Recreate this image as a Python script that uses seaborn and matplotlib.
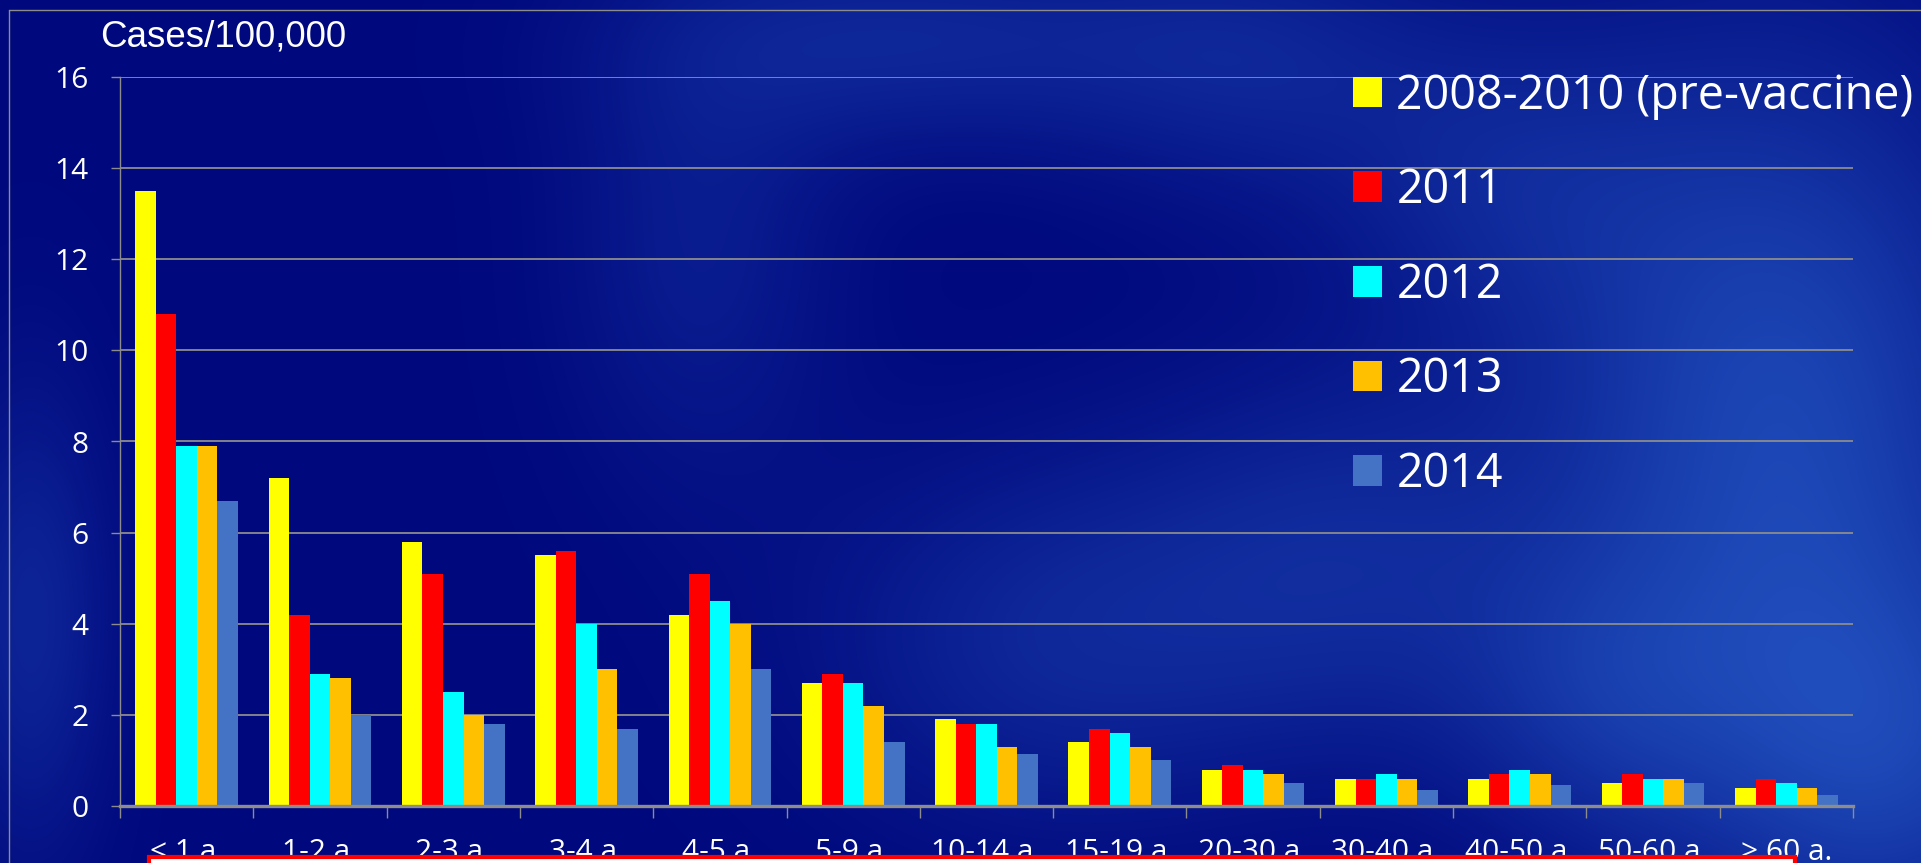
import numpy as np
import pandas as pd
import matplotlib
matplotlib.use("Agg")
import matplotlib.pyplot as plt
import seaborn as sns
from matplotlib.patches import Rectangle
from matplotlib.lines import Line2D

# ---- data: incidence per 100,000 by age group and period ----
age_groups = ["< 1 a.", "1-2 a.", "2-3 a.", "3-4 a.", "4-5 a.", "5-9 a.",
              "10-14 a.", "15-19 a.", "20-30 a.", "30-40 a.", "40-50 a.",
              "50-60 a.", "> 60 a."]
periods = ["2008-2010 (pre-vaccine)", "2011", "2012", "2013", "2014"]
rate_2008_2010 = [13.5, 7.2, 5.8, 5.5, 4.2, 2.7, 1.9, 1.4, 0.8, 0.6, 0.6, 0.5, 0.4]
rate_2011 = [10.8, 4.2, 5.1, 5.6, 5.1, 2.9, 1.8, 1.7, 0.9, 0.6, 0.7, 0.7, 0.6]
rate_2012 = [7.9, 2.9, 2.5, 4.0, 4.5, 2.7, 1.8, 1.6, 0.8, 0.7, 0.8, 0.6, 0.5]
rate_2013 = [7.9, 2.8, 2.0, 3.0, 4.0, 2.2, 1.3, 1.3, 0.7, 0.6, 0.7, 0.6, 0.4]
rate_2014 = [6.7, 2.0, 1.8, 1.7, 3.0, 1.4, 1.15, 1.0, 0.5, 0.35, 0.45, 0.5, 0.25]
y_ticks = [0, 2, 4, 6, 8, 10, 12, 14, 16]
y_label = "Cases/100,000"

bar_colors = ["#FFFF00", "#FF0000", "#00FFFF", "#FFC000", "#4472C4"]

series = [rate_2008_2010, rate_2011, rate_2012, rate_2013, rate_2014]
df = pd.DataFrame({
    "age": np.repeat([age_groups], len(periods), axis=0).ravel(),
    "period": np.repeat(periods, len(age_groups)),
    "rate": np.concatenate(series),
})

sns.set_theme(style="white")
plt.rcParams["font.family"] = ["Open Sans", "DejaVu Sans"]

W, H, DPI = 1921, 863, 100
fig = plt.figure(figsize=(W / DPI, H / DPI), dpi=DPI)

# ---- navy backdrop with soft lighter patches ----
bg_ax = fig.add_axes([0, 0, 1, 1], zorder=-10)
yy, xx = np.mgrid[0:H:2, 0:W:2].astype(float)
light = np.zeros_like(xx)
blobs = [  # (cx, cy, sx, sy, strength)
    (900, 40, 260, 110, 0.40), (1250, 60, 200, 140, 0.35),
    (1780, 420, 240, 380, 0.85), (1900, 760, 200, 200, 0.6),
    (1050, 640, 240, 190, 0.40), (1350, 560, 220, 200, 0.42),
    (30, 620, 80, 240, 0.40), (700, 250, 140, 240, 0.28),
    (1500, 180, 180, 160, 0.32), (1600, 700, 150, 150, 0.35),
]
for cx, cy, sx, sy, s in blobs:
    light += s * np.exp(-(((xx - cx) / sx) ** 2 + ((yy - cy) / sy) ** 2))
light = np.clip(light, 0, 1)
dark = np.array([0, 8, 125]) / 255
bright = np.array([32, 78, 188]) / 255
img = dark + light[..., None] * (bright - dark)
bg_ax.imshow(img, extent=[0, 1, 0, 1], aspect="auto", interpolation="bilinear")
bg_ax.set_axis_off()

# ---- chart axes ----
ax = fig.add_axes([120 / W, 1 - 806 / H, (1853 - 120) / W, (806 - 77) / H])
ax.patch.set_alpha(0)

sns.barplot(data=df, x="age", y="rate", hue="period", hue_order=periods,
            order=age_groups, palette=bar_colors, width=0.77, gap=0,
            saturation=1, linewidth=0, errorbar=None, ax=ax, zorder=3)

ax.set_ylim(0, 16)
ax.set_xlim(-0.5, len(age_groups) - 0.5)
ax.set_yticks(y_ticks)
ax.set_yticklabels([str(v) for v in y_ticks])
ax.set_xlabel("")
ax.set_ylabel("")

grid_col = "#8C8C8C"
for v in y_ticks[1:]:
    ax.axhline(v, color=grid_col, lw=1.3, zorder=1)

for side in ["top", "right"]:
    ax.spines[side].set_visible(False)
ax.spines["left"].set_color(grid_col)
ax.spines["left"].set_linewidth(1.0)
ax.spines["bottom"].set_color(grid_col)
ax.spines["bottom"].set_linewidth(2.4)
ax.spines["bottom"].set_zorder(4)

ax.tick_params(axis="y", which="major", direction="out", length=6.5, width=1.0,
               color=grid_col, pad=16, labelsize=21.5, labelcolor="white", left=True)
ax.tick_params(axis="x", which="major", length=0, pad=23, labelsize=21.5,
               labelcolor="white", bottom=True)
ax.set_xticks(np.arange(-0.5, len(age_groups)), minor=True)
ax.tick_params(axis="x", which="minor", direction="out", length=8.5, width=1.0,
               color=grid_col, bottom=True)

# legend
handles, labels = ax.get_legend_handles_labels()
ax.legend(handles, labels, loc="upper left", bbox_to_anchor=(1353 / W, 1 - 72 / H),
          bbox_transform=fig.transFigure, frameon=False, fontsize=33.6,
          labelcolor="white", handlelength=0.63, handleheight=0.63,
          handletextpad=0.3, labelspacing=1.01, borderaxespad=0, borderpad=0)

# y-axis caption
fig.text(100 / W, 1 - 37 / H, y_label, color="white", fontsize=26.5,
         family=["Liberation Sans", "DejaVu Sans"], ha="left", va="center")

# chart-area frame
fig.add_artist(Line2D([9 / W, 9 / W], [0, 1 - 10 / H], color="#8C8C8C", lw=1.0,
                      transform=fig.transFigure))
fig.add_artist(Line2D([9 / W, 1], [1 - 10 / H, 1 - 10 / H], color="#8C8C8C", lw=1.0,
                      transform=fig.transFigure))

# caption box along the bottom edge
fig.add_artist(Rectangle((149 / W, -0.05), (1795 - 149) / W, 0.05 + 6 / H,
                         transform=fig.transFigure, facecolor="white",
                         edgecolor="#FF0000", lw=3.0, zorder=20))

fig.savefig("out.png", dpi=DPI)
